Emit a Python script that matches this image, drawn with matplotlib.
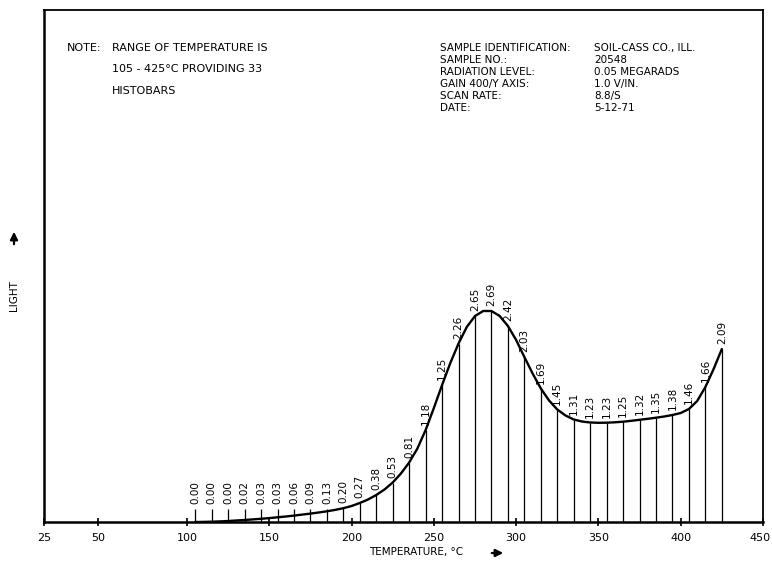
import numpy as np
import matplotlib
matplotlib.use("Agg")
import matplotlib.pyplot as plt
from matplotlib.transforms import ScaledTranslation

# ---------------- data ----------------
bar_temps = [105, 115, 125, 135, 145, 155, 165, 175, 185, 195, 205, 215, 225,
             235, 245, 255, 265, 275, 285, 295, 305, 315, 325, 335, 345, 355,
             365, 375, 385, 395, 405, 415, 425]
bar_values = [0.00, 0.00, 0.00, 0.02, 0.03, 0.03, 0.06, 0.09, 0.13, 0.20, 0.27,
              0.38, 0.53, 0.81, 1.18, 1.25, 2.26, 2.65, 2.69, 2.42, 2.03, 1.69,
              1.45, 1.31, 1.23, 1.23, 1.25, 1.32, 1.35, 1.38, 1.46, 1.66, 2.09]

# glow curve (relative light units) read at 5 degC steps
curve_temps = [105, 110, 115, 120, 125, 130, 135, 140, 145, 150, 155, 160, 165,
               170, 175, 180, 185, 190, 195, 200, 205, 210, 215, 220, 225, 230,
               235, 240, 245, 250, 255, 260, 265, 270, 275, 280, 285, 290, 295,
               300, 305, 310, 315, 320, 325, 330, 335, 340, 345, 350, 355, 360,
               365, 370, 375, 380, 385, 390, 395, 400, 405, 410, 415, 420, 425]
curve_light = [0, 0.1, 0.3, 0.6, 1, 1.5, 2, 2.6, 3.2, 3.9, 4.7, 5.5, 6.4,
               7.4, 8.4, 9.5, 10.7, 12.1, 13.8, 16, 19, 22.5, 27, 32.5, 39.5, 48.5,
               59.5, 73.5, 92, 114, 137, 159, 178.5, 195, 206, 211, 211, 206, 196,
               182, 165, 148.5, 133.5, 121.5, 112.5, 106.5, 102.5, 100.5, 99.5, 99.2, 99.3, 99.7,
               100.3, 101.2, 102.2, 103.2, 104.3, 105.5, 107, 109, 113, 121, 135, 153, 173]

xtick_values = [25, 50, 100, 150, 200, 250, 300, 350, 400, 450]
xtick_labels = ["25", "50", "100", "150", "200", "250", "300", "350", "400", "450"]

note_lines = ["RANGE OF TEMPERATURE IS", "105 - 425\u00b0C PROVIDING 33", "HISTOBARS"]
info_keys = ["SAMPLE IDENTIFICATION:", "SAMPLE NO.:", "RADIATION LEVEL:",
             "GAIN 400/Y AXIS:", "SCAN RATE:", "DATE:"]
info_vals = ["SOIL-CASS CO., ILL.", "20548", "0.05 MEGARADS", "1.0 V/IN.",
             "8.8/S", "5-12-71"]

# temperature axis of the recorder is not linear at the low end
scale_T = [25, 50, 100, 450]
scale_U = [0, 54, 143, 719]


def _piecewise(x, xs, ys):
    x = np.asarray(x, dtype=float)
    y = np.interp(x, xs, ys)
    lo_s = (ys[1] - ys[0]) / (xs[1] - xs[0])
    hi_s = (ys[-1] - ys[-2]) / (xs[-1] - xs[-2])
    y = np.where(x < xs[0], ys[0] + (x - xs[0]) * lo_s, y)
    y = np.where(x > xs[-1], ys[-1] + (x - xs[-1]) * hi_s, y)
    return y


def fwd(x):
    return _piecewise(x, scale_T, scale_U)


def inv(u):
    return _piecewise(u, scale_U, scale_T)


# ---------------- figure ----------------
W, H = 772, 562
plt.rcParams["font.family"] = ["DejaVu Sans"]
fig = plt.figure(figsize=(W / 100, H / 100), dpi=100)
fig.patch.set_facecolor("white")


def fp(x, y):
    return x / W, 1 - y / H


ax = fig.add_axes([44 / W, 40 / H, 719 / W, 512 / H])
ax.set_xscale("function", functions=(fwd, inv))
ax.set_xlim(25, 450)
ax.set_ylim(0, 512)

# curve
ax.plot(curve_temps, curve_light, color="black", lw=1.7,
        solid_capstyle="round", solid_joinstyle="round")

# histobars
bar_tops = np.interp(bar_temps, curve_temps, curve_light)
bar_tops = np.maximum(bar_tops, 13)
ax.vlines(bar_temps, 0, bar_tops, color="black", lw=0.9)

for t, top, v in zip(bar_temps, bar_tops, bar_values):
    ax.annotate(f"{v:.2f}", xy=(t, top), xytext=(0, 3.5),
                textcoords="offset points", rotation=90,
                ha="center", va="bottom", fontsize=7.5, color="black")

# axes styling
for side in ["left", "bottom"]:
    ax.spines[side].set_linewidth(1.8)
for side in ["top", "right"]:
    ax.spines[side].set_linewidth(1.3)
ax.set_yticks([])
ax.set_xticks(xtick_values)
ax.set_xticklabels(xtick_labels)
ax.xaxis.set_minor_locator(matplotlib.ticker.NullLocator())
ax.tick_params(axis="x", direction="inout", length=6, width=1.2,
               labelsize=8, pad=5)
last = ax.get_xticklabels()[-1]
last.set_ha("right")
last.set_transform(last.get_transform() + ScaledTranslation(8 / 100, 0, fig.dpi_scale_trans))

# axis labels with arrows
fig.text(*fp(416, 552), "TEMPERATURE, \u00b0C", ha="center", va="center",
         fontsize=7.5)
ax.annotate("", xy=fp(506, 553), xytext=fp(489, 553),
            xycoords="figure fraction", textcoords="figure fraction",
            arrowprops=dict(arrowstyle="-|>", color="black", lw=1.6,
                            mutation_scale=11))
fig.text(*fp(14, 296), "LIGHT", rotation=90, ha="center", va="center",
         fontsize=7.5)
ax.annotate("", xy=fp(14, 229), xytext=fp(14, 247),
            xycoords="figure fraction", textcoords="figure fraction",
            arrowprops=dict(arrowstyle="-|>", color="black", lw=1.6,
                            mutation_scale=11))

# note block
fig.text(*fp(67, 48), "NOTE:", ha="left", va="center", fontsize=8)
for i, line in enumerate(note_lines):
    fig.text(*fp(112, 48 + 21.5 * i), line, ha="left", va="center", fontsize=8)

# sample info block
for i, (k, v) in enumerate(zip(info_keys, info_vals)):
    y = 48 + 12 * i
    fig.text(*fp(440, y), k, ha="left", va="center", fontsize=7.5)
    fig.text(*fp(594, y), v, ha="left", va="center", fontsize=7.5)

fig.savefig("out.png", dpi=100, facecolor="white")
